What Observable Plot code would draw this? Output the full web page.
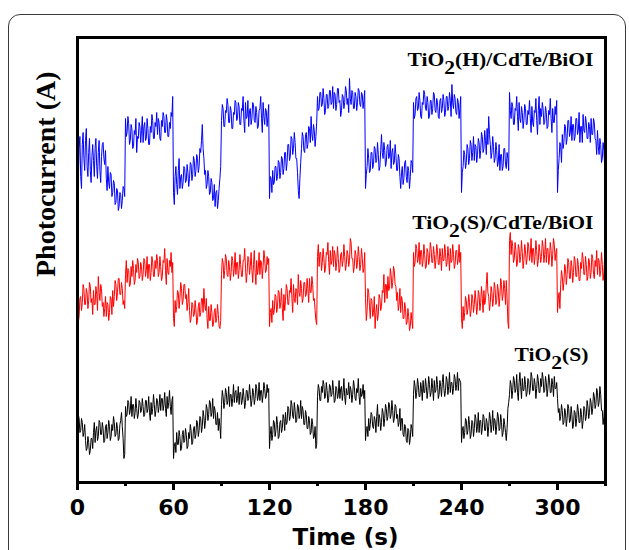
<!DOCTYPE html>
<html><head><meta charset="utf-8">
<script src="https://cdn.jsdelivr.net/npm/d3@7"></script>
<script src="https://cdn.jsdelivr.net/npm/@observablehq/plot@0.6"></script>
<style>
body{margin:0;background:#fff;overflow:hidden;}
#wrap{position:relative;width:629px;height:550px;}
#wrap svg{display:block;}
#border{position:absolute;left:8px;top:14px;width:616px;height:600px;border:1.5px solid #3a3a3a;border-radius:12px;pointer-events:none;}
</style></head><body><div id="wrap"><div id="border"></div></div>
<script>
// sampling times (s), every 0.5 s
const time = d3.range(0, 330.5, 0.5);
const seriesNames = ["TiO2(H)/CdTe/BiOI", "TiO2(S)/CdTe/BiOI", "TiO2(S)"];
const seriesColors = ["#0000ff", "#ff0000", "#000000"];
const xTicks = [0, 60, 120, 180, 240, 300];
const xMinorTicks = [30, 90, 150, 210, 270, 330];

// photocurrent, arbitrary units (offset traces); 20 readings per 10 s
const tio2H_CdTe_BiOI = [
325,308,340,352,312,300,344,356,330,318,348,360,322,312,336,350,318,306,332,344,
328,312,340,350,322,310,336,348,318,306,332,344,346,330,324,338,310,298,322,306,
300,316,314,292,296,308,305,284,286,300,298,278,282,296,294,280,288,302,300,292,
370,352,356,372,365,344,348,364,360,340,342,358,354,370,336,352,350,366,362,346,
358,372,346,362,366,348,350,370,360,344,344,362,356,374,368,350,350,366,362,376,
354,370,366,350,348,368,362,376,372,356,356,374,368,352,352,366,360,376,372,392,
296,284,312,322,304,294,318,330,300,312,314,300,306,322,320,306,308,324,316,302,
310,326,324,308,314,332,328,312,318,334,330,316,322,340,336,348,364,340,330,314,
318,300,304,318,312,294,296,310,306,288,290,304,282,296,298,280,288,300,310,322,
368,384,380,362,362,378,376,390,384,366,366,382,378,360,360,376,374,388,386,368,
370,386,382,364,364,380,378,392,368,356,386,370,372,388,362,378,380,364,370,386,
384,368,366,382,376,360,362,378,380,392,370,356,386,372,364,380,378,362,372,384,
290,312,310,296,318,304,306,322,322,308,312,328,326,310,316,332,330,314,320,336,
336,318,326,344,344,328,332,352,350,334,340,356,346,330,330,316,298,290,310,326,
340,356,352,338,336,354,356,340,344,362,360,346,372,354,348,364,358,342,352,366,
392,378,380,396,396,382,384,400,390,374,378,394,394,380,382,398,398,384,386,402,
380,396,394,378,384,400,400,386,388,372,378,394,392,380,386,402,398,384,390,376,
410,390,384,398,396,380,380,396,392,378,386,400,398,384,382,396,394,380,388,398,
300,314,322,340,330,316,318,336,336,320,324,342,340,326,328,346,334,318,322,338,
354,336,330,346,338,322,326,342,344,330,332,348,320,336,340,324,326,344,334,318,
318,334,330,312,300,316,322,304,310,326,328,312,306,322,318,300,312,328,326,316,
386,370,374,390,392,378,380,396,388,372,370,386,384,398,394,380,378,392,386,370,
372,388,388,374,380,396,394,378,376,390,386,372,370,388,390,376,380,394,388,372,
376,392,392,378,382,396,388,372,404,386,380,394,390,376,374,390,386,370,380,392,
296,316,322,338,334,320,326,344,340,324,330,348,344,328,336,352,328,344,342,326,
334,350,346,330,338,356,352,336,340,358,348,334,360,344,372,354,344,330,336,352,
342,326,330,346,338,322,326,344,318,334,334,318,322,340,340,324,320,336,330,318,
396,378,370,386,382,364,364,380,378,392,372,358,386,370,366,382,376,360,368,384,
380,364,364,378,374,388,370,356,382,366,362,378,376,390,368,354,378,392,364,380,
372,386,380,364,366,382,376,360,362,378,374,390,370,356,380,366,366,382,374,388,
296,318,330,346,342,326,354,340,346,364,362,344,350,368,368,352,356,372,348,364,
364,348,352,370,370,354,358,376,346,362,362,346,374,358,356,372,366,350,350,366,
362,346,370,354,354,370,366,350,348,334,358,342,334,350,344,326,330,346,338,322,
330];

const tio2S_CdTe_BiOI = [
180,166,172,190,192,178,186,204,200,184,184,200,196,180,188,206,202,186,190,174,
198,184,184,202,194,178,212,196,188,204,200,182,186,172,180,192,172,186,184,168,
176,192,190,174,198,182,192,208,204,188,196,210,210,194,194,206,200,184,188,180,
214,228,206,220,218,202,204,222,212,228,220,204,208,224,216,230,226,210,212,226,
222,208,214,230,228,212,218,232,210,224,224,208,216,232,226,212,212,228,220,234,
228,212,216,232,222,208,212,228,226,240,218,204,230,216,214,228,222,236,216,226,
170,162,188,176,182,198,196,180,190,206,200,184,188,204,204,190,194,178,186,200,
178,166,170,186,184,172,174,188,180,164,168,182,186,172,176,190,190,176,200,184,
178,190,170,160,182,168,168,184,176,162,164,178,180,166,170,184,174,162,160,168,
214,230,226,210,218,234,230,214,212,228,222,208,216,232,228,212,220,236,214,226,
226,210,218,234,224,212,212,228,228,240,220,206,216,232,230,214,222,236,218,206,
224,238,216,204,228,214,220,236,214,228,226,210,222,238,230,216,218,232,224,230,
162,176,180,166,188,174,178,194,192,176,182,198,196,180,186,200,180,168,194,178,
188,204,200,184,184,198,196,210,190,176,204,190,186,200,198,184,214,196,192,208,
200,186,190,206,206,192,194,210,200,186,210,196,196,212,204,188,190,178,168,164,
232,244,222,236,236,218,226,240,230,216,220,236,234,246,226,214,238,224,228,242,
222,238,234,218,226,242,230,216,220,234,236,222,228,244,232,218,224,238,234,222,
228,250,246,230,230,216,222,238,234,220,226,242,232,218,224,240,230,216,220,236,
190,168,178,200,196,182,170,190,188,172,176,192,160,176,184,168,174,194,190,178,
182,198,196,214,186,204,204,190,212,198,200,220,214,200,206,222,218,204,202,188,
196,178,184,200,176,192,188,170,170,186,180,164,166,180,172,158,162,176,168,160,
236,222,226,244,240,226,230,246,224,238,238,222,228,244,234,220,222,240,236,224,
230,246,240,226,226,242,234,220,228,244,238,224,224,240,232,218,240,228,228,244,
236,222,226,242,232,218,240,226,228,244,234,220,224,238,238,224,230,244,226,236,
170,160,182,168,176,192,188,174,180,194,186,172,178,194,190,176,184,198,188,174,
182,198,194,178,186,202,190,176,198,184,188,204,216,196,192,178,186,202,196,182,
190,206,200,184,188,204,198,182,192,210,204,188,194,208,200,184,208,190,166,160,
248,256,234,248,242,226,230,246,238,222,226,244,240,226,232,248,236,220,228,244,
238,224,230,246,242,228,234,250,226,240,240,224,232,248,238,222,228,244,236,226,
232,248,242,226,234,250,226,240,240,224,230,246,238,222,234,250,244,228,236,240,
176,190,196,180,204,218,212,198,206,224,220,204,214,230,226,210,210,228,222,206,
216,232,228,212,212,230,224,208,208,226,220,236,230,214,214,232,224,208,212,230,
226,210,216,234,230,214,210,228,222,238,214,230,228,212,218,236,224,208,216,232,
222];

const tio2S = [
64,74,70,56,58,70,66,52,56,64,48,38,40,52,46,34,38,50,50,40,
56,66,46,58,62,48,52,68,66,54,54,66,60,46,48,62,64,50,56,68,
62,48,52,64,58,72,66,52,54,66,60,48,50,64,68,76,62,50,30,34,
82,72,74,88,86,74,78,92,72,84,84,70,76,90,80,70,74,88,86,76,
78,90,82,72,74,88,88,76,80,92,76,68,86,74,80,94,84,72,78,90,
88,76,82,94,78,90,90,78,84,96,80,72,92,80,86,98,82,74,88,92,
30,42,46,36,56,44,44,58,52,38,40,54,58,46,48,60,54,40,42,56,
50,64,58,44,46,60,62,50,54,68,66,52,58,72,70,56,62,78,72,60,
68,84,80,68,74,88,86,72,76,90,70,82,78,64,64,76,58,70,62,50,
84,98,92,80,86,100,96,84,88,102,82,94,94,82,90,104,86,96,98,86,
90,102,84,96,96,84,88,100,92,80,86,98,98,88,90,104,94,82,88,100,
96,84,90,104,100,88,92,106,88,98,98,86,94,106,100,90,92,104,96,100,
40,54,62,48,54,68,66,52,58,72,64,50,52,66,68,56,60,74,70,58,
76,64,66,82,80,68,72,88,84,72,70,86,78,66,68,84,82,70,74,88,
70,82,78,64,64,78,74,60,60,72,68,54,56,70,64,50,52,62,40,44,
92,104,100,88,88,102,96,108,104,90,92,106,98,86,90,104,102,92,94,108,
98,86,88,102,100,90,94,108,90,100,102,88,96,110,92,84,100,94,94,106,
90,102,98,86,94,108,102,90,88,100,96,110,92,84,100,92,94,104,90,98,
48,60,62,52,70,58,64,76,74,62,60,72,68,56,72,84,62,74,70,58,
66,80,76,62,70,84,80,68,72,86,84,70,74,88,78,66,70,84,82,70,
74,62,66,80,58,70,70,54,52,64,62,48,46,60,58,44,50,64,60,52,
94,108,102,90,96,110,104,92,92,106,100,88,108,96,96,110,102,90,98,112,
104,92,96,110,100,88,108,96,98,112,104,90,94,108,102,92,106,114,100,92,
98,112,108,94,102,116,96,106,106,94,100,114,110,98,104,116,98,110,108,106,
46,58,62,50,56,70,68,54,58,72,64,50,54,68,66,52,60,74,70,56,
62,76,56,68,68,54,60,74,72,58,58,70,66,52,62,76,70,56,64,78,
58,70,68,54,62,76,72,58,60,74,66,52,56,70,64,56,48,60,80,86,
94,108,104,90,98,112,108,96,100,114,96,88,106,116,102,90,110,98,98,112,
104,92,96,110,108,94,100,116,112,98,98,110,104,90,100,114,108,96,96,110,
102,116,110,96,98,112,106,92,100,114,108,96,96,110,104,92,112,100,100,106,
90,76,80,68,72,84,78,64,66,80,76,62,70,84,80,66,68,82,74,60,
64,78,76,62,70,84,78,66,66,80,74,60,68,82,80,68,72,88,82,70,
76,90,86,74,80,96,92,80,84,100,96,82,86,102,94,78,78,64,72,84,
74];

const seriesValues = [tio2H_CdTe_BiOI, tio2S_CdTe_BiOI, tio2S];
const rows = [];
seriesNames.forEach((name, k) => seriesValues[k].forEach((v, i) => rows.push({t: time[i], v, s: name})));

const serif = "'Liberation Serif', 'Times New Roman', serif";
const sans = "'DejaVu Sans', sans-serif";
const lblStyle = {textAnchor: "end", lineAnchor: "bottom", fontSize: 18, fontWeight: "bold", fontFamily: serif, fill: "black"};

const chart = Plot.plot({
  width: 629, height: 550,
  marginLeft: 77, marginRight: 24, marginTop: 37, marginBottom: 68,
  style: {background: "transparent", overflow: "visible"},
  x: {domain: [0, 330], label: null},
  y: {domain: [6, 451], axis: null},
  color: {domain: seriesNames, range: seriesColors},
  marks: [
    Plot.line(rows, {x: "t", y: "v", z: "s", stroke: "s", strokeWidth: 1}),
    Plot.frame({stroke: "black", strokeWidth: 3}),
    Plot.axisX(xMinorTicks, {tickSize: 4, strokeWidth: 3, tickFormat: () => "", label: null}),
    Plot.axisX(xTicks, {tickSize: 8, tickPadding: 9, strokeWidth: 3, label: null, fontSize: 22, fontWeight: "bold", fontFamily: sans, fill: "black"}),
    Plot.text(["Time (s)"], {frameAnchor: "bottom", dx: 4, dy: 55, lineAnchor: "middle", fontSize: 23, fontWeight: "bold", fontFamily: sans, fill: "black"}),
    Plot.text(["Photocurrent (A)"], {frameAnchor: "left", rotate: -90, dx: -31, dy: 17, lineAnchor: "middle", fontSize: 28, fontWeight: "bold", fontFamily: serif, fill: "black"}),
    Plot.text([seriesNames[0]], {...lblStyle, frameAnchor: "top-right", dx: -12, dy: 28}),
    Plot.text([seriesNames[1]], {...lblStyle, frameAnchor: "top-right", dx: -12, dy: 191}),
    Plot.text([seriesNames[2]], {...lblStyle, frameAnchor: "top-right", dx: -17, dy: 323})
  ]
});

const svg = chart.tagName && chart.tagName.toLowerCase() === "svg" ? chart : chart.querySelector("svg");
d3.select(svg).selectAll("text").filter(function() { return seriesNames.includes(this.textContent); }).each(function() {
  const el = d3.select(this);
  const s = this.textContent;
  const i = s.indexOf("2");
  el.text(null);
  el.append("tspan").text(s.slice(0, i));
  el.append("tspan").attr("dy", "0.45em").text("2");
  el.append("tspan").attr("dy", "-0.45em").text(s.slice(i + 1));
  let tr = el.attr("transform") || "";
  if (!tr) {
    const x = +el.attr("x") || 0, y = +el.attr("y") || 0;
    el.attr("x", null).attr("y", null);
    tr = `translate(${x},${y})`;
  }
  el.attr("transform", tr + " scale(1.2,1)");
});
document.getElementById("wrap").prepend(chart);
</script>
</body></html>
